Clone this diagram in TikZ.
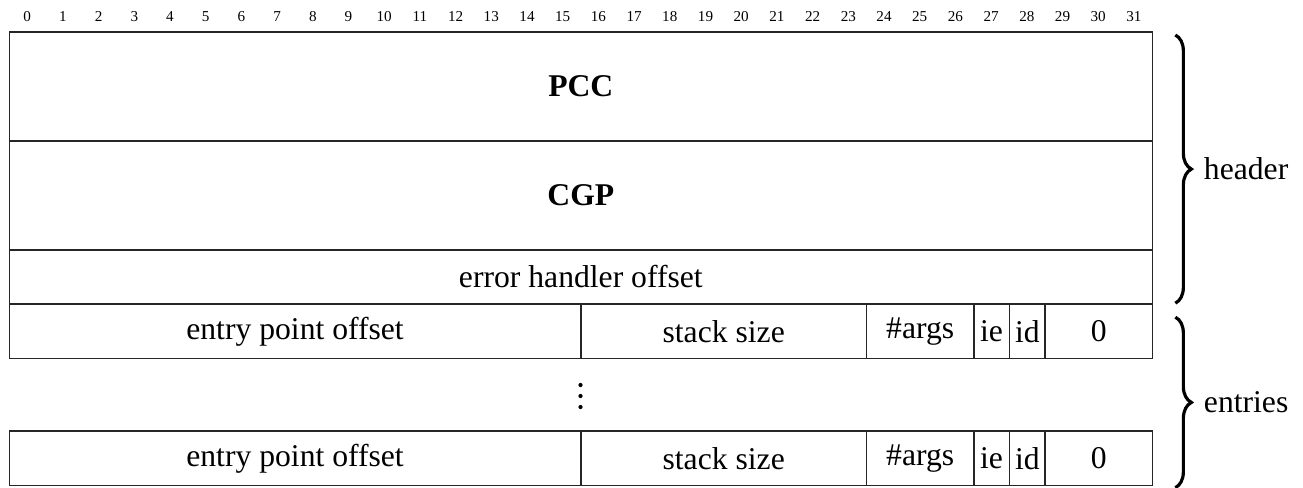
\documentclass[tikz,border=0pt]{standalone}
\usepackage{fontspec}
\setmainfont{Liberation Serif}
\usetikzlibrary{positioning, decorations.pathreplacing}
\def\bitwd{0.357cm}
\def\rowht{0.544cm}

\begin{document}
\begin{tikzpicture}[
        x=0.01cm, y=-0.01cm,
        field/.style={rectangle, draw=black!85, line width=0.45pt, inner sep=0pt, outer sep=0pt, minimum width=#1*\bitwd, minimum height=\rowht, font=\fontsize{9}{11}\selectfont},
        bitnum/.style={inner sep=0pt, font=\fontsize{4.3}{5}\selectfont},
        grpbrace/.style={decorate, decoration={brace, amplitude=0.16cm}, line width=0.9pt},
        grplabel/.style={right=0.27cm, inner sep=0pt, font=\fontsize{9}{11}\selectfont}
    ]
        \useasboundingbox (0,0) rectangle (1303,487);

        % bit numbers
        \foreach \b in {0,...,31}
            \node[bitnum] (bit\b) at ({27.2+35.7*\b},16.5) {\b};

        % header words
        \node[field=32, minimum height=2*\rowht, anchor=north west] (pcc) at (9.3,32) {\textbf{PCC}};
        \node[field=32, minimum height=2*\rowht, below=0pt of pcc] (cgp) {\textbf{CGP}};
        \node[field=32, below=0pt of cgp] (errh) {error handler offset};

        % first entry
        \node[field=16, below right=0pt and 0pt of errh.south west] (epo1) {entry point offset};
        \node[field=8, right=0pt of epo1] (ss1) {stack size};
        \node[field=3, right=0pt of ss1] (args1) {\#args};
        \node[field=1, right=0pt of args1] (ie1) {ie};
        \node[field=1, right=0pt of ie1] (id1) {id};
        \node[field=3, right=0pt of id1] (zero1) {0};

        % vertical dots
        \coordinate (dots) at (580.5,396);
        \foreach \dy in {-0.11,0,0.11}
            \fill ([yshift=\dy cm]dots) circle (0.6pt);

        % last entry
        \node[field=16, below right=0.726cm and 0pt of epo1.south west] (epo2) {entry point offset};
        \node[field=8, right=0pt of epo2] (ss2) {stack size};
        \node[field=3, right=0pt of ss2] (args2) {\#args};
        \node[field=1, right=0pt of args2] (ie2) {ie};
        \node[field=1, right=0pt of ie2] (id2) {id};
        \node[field=3, right=0pt of id2] (zero2) {0};

        % groups
        \draw[grpbrace] ([xshift=0.23cm, yshift=-0.03cm]pcc.north east) -- node[grplabel] (hdr) {header} ([xshift=0.23cm, yshift=0.01cm]errh.south east);
        \draw[grpbrace] ([xshift=0.23cm, yshift=-0.13cm]zero1.north east) -- node[grplabel] (ents) {entries} ([xshift=0.23cm, yshift=-0.02cm]zero2.south east);
    \end{tikzpicture}
\end{document}
